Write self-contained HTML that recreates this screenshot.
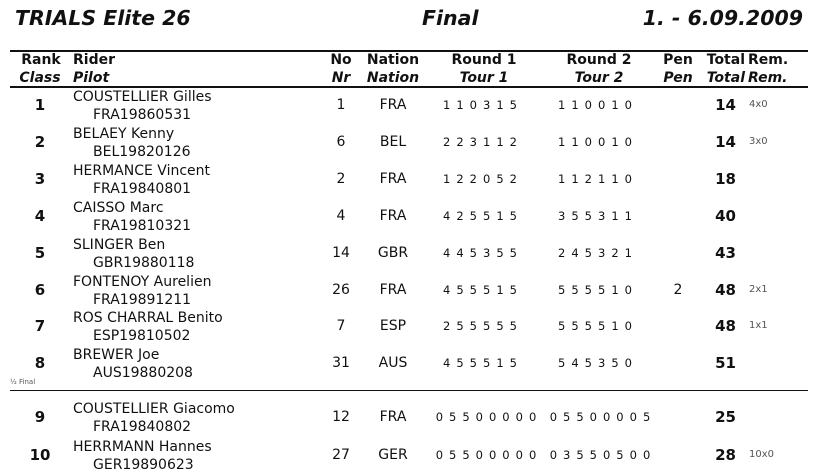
<!DOCTYPE html>
<html><head><meta charset="utf-8"><style>
body{margin:0;width:816px;height:476px;background:#fff;position:relative;overflow:hidden;font-family:"DejaVu Sans","Liberation Sans",sans-serif;color:#111}
.a{position:absolute;white-space:nowrap;line-height:16px}
.t{font-weight:bold;font-style:italic;font-size:20.5px;line-height:24px}
.h{font-weight:bold;font-size:14px}
.hi{font-weight:bold;font-style:italic;font-size:14px}
.c{transform:translateX(-50%)}
.r{transform:translateX(-100%)}
.rk{font-weight:bold;font-size:15px}
.n{font-size:14px}
.d{font-size:11.5px;letter-spacing:6px}
.tot{font-weight:bold;font-size:15px}
.rem{font-size:10px;color:#555}
.line{position:absolute;left:10px;width:798px;background:#111}
.row{position:absolute;left:0;width:816px;height:40px}
.row .a{top:12px}
.row .cd{top:10px;left:93px}
</style></head><body>
<div class="a t" style="left:15px;top:6px">TRIALS Elite 26</div>
<div class="a t" style="left:422px;top:6px">Final</div>
<div class="a t r" style="left:803px;top:6px">1. - 6.09.2009</div>
<div class="line" style="top:50px;height:2px"></div>
<div class="line" style="top:86px;height:2px"></div>
<div class="line" style="top:390px;height:1px"></div>

<div class="a h c" style="left:41px;top:52px">Rank</div>
<div class="a hi c" style="left:40px;top:70px">Class</div>
<div class="a h" style="left:73px;top:52px">Rider</div>
<div class="a hi" style="left:73px;top:70px">Pilot</div>
<div class="a h c" style="left:341px;top:52px">No</div>
<div class="a hi c" style="left:341px;top:70px">Nr</div>
<div class="a h c" style="left:393px;top:52px">Nation</div>
<div class="a hi c" style="left:393px;top:70px">Nation</div>
<div class="a h c" style="left:484px;top:52px">Round 1</div>
<div class="a hi c" style="left:484px;top:70px">Tour 1</div>
<div class="a h c" style="left:599px;top:52px">Round 2</div>
<div class="a hi c" style="left:599px;top:70px">Tour 2</div>
<div class="a h c" style="left:678px;top:52px">Pen</div>
<div class="a hi c" style="left:678px;top:70px">Pen</div>
<div class="a h r" style="left:745px;top:52px">Total</div>
<div class="a hi r" style="left:745px;top:70px">Total</div>
<div class="a h" style="left:748px;top:52px">Rem.</div>
<div class="a hi" style="left:748px;top:70px">Rem.</div>

<div class="a" style="left:10px;top:378px;font-size:7px;color:#555;line-height:9px">½ Final</div>

<div class="row" style="top:85px"><div class="a rk c" style="left:40px">1</div><div class="a n" style="left:73px;top:4px">COUSTELLIER Gilles</div><div class="a n cd" style="top:22px">FRA19860531</div><div class="a n c" style="left:341px">1</div><div class="a n c" style="left:393px">FRA</div><div class="a d c" style="left:483px">110315</div><div class="a d c" style="left:598px">110010</div><div class="a tot r" style="left:736px">14</div><div class="a rem" style="left:749px">4x0</div></div>

<div class="row" style="top:122px"><div class="a rk c" style="left:40px">2</div><div class="a n" style="left:73px;top:4px">BELAEY Kenny</div><div class="a n cd" style="top:22px">BEL19820126</div><div class="a n c" style="left:341px">6</div><div class="a n c" style="left:393px">BEL</div><div class="a d c" style="left:483px">223112</div><div class="a d c" style="left:598px">110010</div><div class="a tot r" style="left:736px">14</div><div class="a rem" style="left:749px">3x0</div></div>

<div class="row" style="top:159px"><div class="a rk c" style="left:40px">3</div><div class="a n" style="left:73px;top:4px">HERMANCE Vincent</div><div class="a n cd" style="top:22px">FRA19840801</div><div class="a n c" style="left:341px">2</div><div class="a n c" style="left:393px">FRA</div><div class="a d c" style="left:483px">122052</div><div class="a d c" style="left:598px">112110</div><div class="a tot r" style="left:736px">18</div></div>

<div class="row" style="top:196px"><div class="a rk c" style="left:40px">4</div><div class="a n" style="left:73px;top:4px">CAISSO Marc</div><div class="a n cd" style="top:22px">FRA19810321</div><div class="a n c" style="left:341px">4</div><div class="a n c" style="left:393px">FRA</div><div class="a d c" style="left:483px">425515</div><div class="a d c" style="left:598px">355311</div><div class="a tot r" style="left:736px">40</div></div>

<div class="row" style="top:233px"><div class="a rk c" style="left:40px">5</div><div class="a n" style="left:73px;top:4px">SLINGER Ben</div><div class="a n cd" style="top:22px">GBR19880118</div><div class="a n c" style="left:341px">14</div><div class="a n c" style="left:393px">GBR</div><div class="a d c" style="left:483px">445355</div><div class="a d c" style="left:598px">245321</div><div class="a tot r" style="left:736px">43</div></div>

<div class="row" style="top:270px"><div class="a rk c" style="left:40px">6</div><div class="a n" style="left:73px;top:4px">FONTENOY Aurelien</div><div class="a n cd" style="top:22px">FRA19891211</div><div class="a n c" style="left:341px">26</div><div class="a n c" style="left:393px">FRA</div><div class="a d c" style="left:483px">455515</div><div class="a d c" style="left:598px">555510</div><div class="a n c" style="left:678px">2</div><div class="a tot r" style="left:736px">48</div><div class="a rem" style="left:749px">2x1</div></div>

<div class="row" style="top:306px"><div class="a rk c" style="left:40px">7</div><div class="a n" style="left:73px;top:4px">ROS CHARRAL Benito</div><div class="a n cd" style="top:22px">ESP19810502</div><div class="a n c" style="left:341px">7</div><div class="a n c" style="left:393px">ESP</div><div class="a d c" style="left:483px">255555</div><div class="a d c" style="left:598px">555510</div><div class="a tot r" style="left:736px">48</div><div class="a rem" style="left:749px">1x1</div></div>

<div class="row" style="top:343px"><div class="a rk c" style="left:40px">8</div><div class="a n" style="left:73px;top:4px">BREWER Joe</div><div class="a n cd" style="top:22px">AUS19880208</div><div class="a n c" style="left:341px">31</div><div class="a n c" style="left:393px">AUS</div><div class="a d c" style="left:483px">455515</div><div class="a d c" style="left:598px">545350</div><div class="a tot r" style="left:736px">51</div></div>

<div class="row" style="top:397px"><div class="a rk c" style="left:40px">9</div><div class="a n" style="left:73px;top:4px">COUSTELLIER Giacomo</div><div class="a n cd" style="top:22px">FRA19840802</div><div class="a n c" style="left:341px">12</div><div class="a n c" style="left:393px">FRA</div><div class="a d c" style="left:489px">05500000</div><div class="a d c" style="left:603px">05500005</div><div class="a tot r" style="left:736px">25</div></div>

<div class="row" style="top:435px"><div class="a rk c" style="left:40px">10</div><div class="a n" style="left:73px;top:4px">HERRMANN Hannes</div><div class="a n cd" style="top:22px">GER19890623</div><div class="a n c" style="left:341px">27</div><div class="a n c" style="left:393px">GER</div><div class="a d c" style="left:489px">05500000</div><div class="a d c" style="left:603px">03550500</div><div class="a tot r" style="left:736px">28</div><div class="a rem" style="left:749px">10x0</div></div>
</body></html>
